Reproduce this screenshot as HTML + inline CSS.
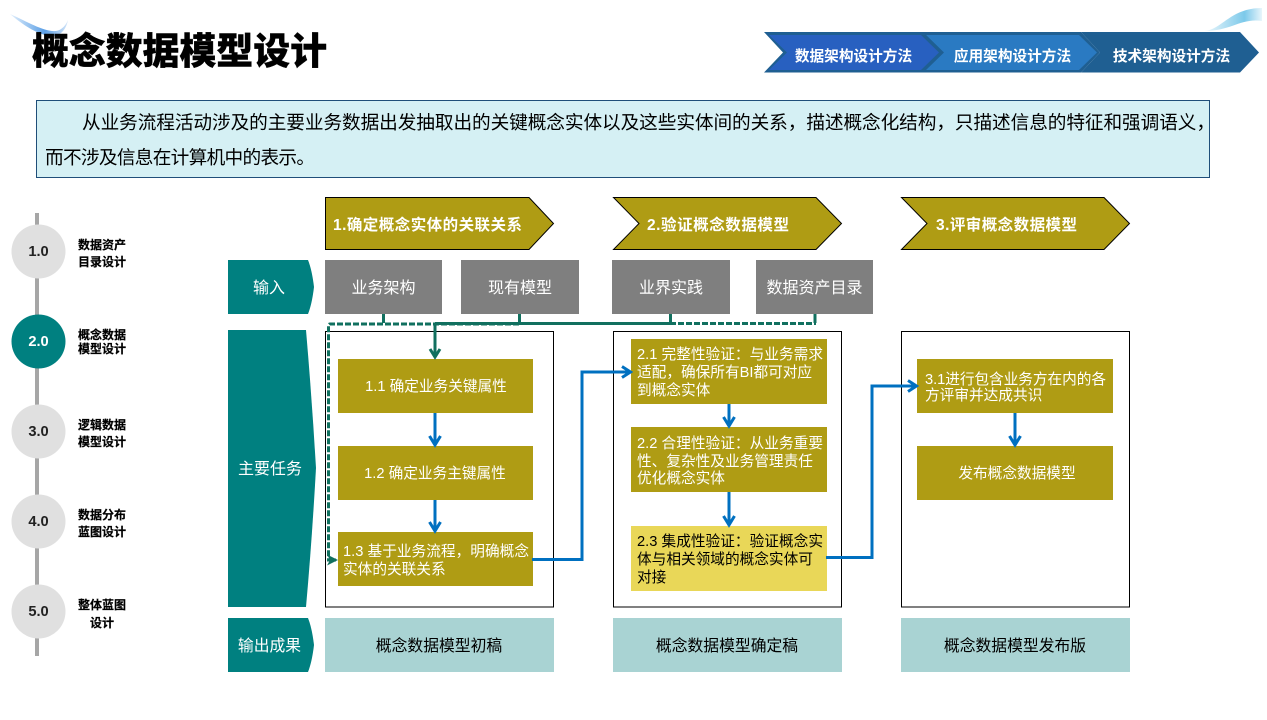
<!DOCTYPE html>
<html lang="zh"><head><meta charset="utf-8"><title>概念数据模型设计</title>
<style>
html,body{margin:0;padding:0;background:#fff;width:1267px;height:720px;overflow:hidden}
svg{display:block}
text{font-family:"Liberation Sans","Noto Sans CJK SC",sans-serif;font-size:14.67px;fill:#fff}
.k{fill:#000}
.b{font-weight:700}
.c{text-anchor:middle}
.n{font-size:12px;font-weight:700;fill:#000;stroke:#000;stroke-width:.2}
.box{fill:#fff;stroke:#000;stroke-width:1}
.go{fill:#af9c14}
.hd{fill:#af9c14;stroke:#000;stroke-width:1}
.te{fill:#008080}
.gr{fill:#7f7f7f}
.ou{fill:#a9d3d3}
.ci{fill:#e0e0e0}
.num{font-size:14.67px;font-weight:700;fill:#222;text-anchor:middle}
</style></head><body>
<svg width="1267" height="720" viewBox="0 0 1267 720" xmlns="http://www.w3.org/2000/svg">
<defs>
<linearGradient id="s1" x1="0" y1="0" x2="1" y2="0"><stop offset="0" stop-color="#e3f0fc"/><stop offset=".6" stop-color="#5b9fe6"/><stop offset="1" stop-color="#d3e5f8"/></linearGradient>
<linearGradient id="s2" x1="0" y1="0" x2="1" y2="0"><stop offset="0" stop-color="#eef8fc"/><stop offset=".7" stop-color="#7cc9ea"/><stop offset="1" stop-color="#e8f5fb"/></linearGradient>
</defs>

<!-- corner swooshes -->
<path d="M10 14 C28 22 44 32 56 31 C62 30 66 25 68 20 C66 30 60 37 50 36 C36 34 22 24 10 14Z" fill="url(#s1)"/>
<path d="M1204 31 C1222 30 1230 8 1262 8 L1262 21 C1240 18 1232 31 1204 31Z" fill="url(#s2)"/>

<!-- title -->
<text x="32" y="64" style="font-size:36.8px;font-weight:900;fill:#000;stroke:#000;stroke-width:.4" textLength="295">概念数据模型设计</text>

<!-- top nav chevrons -->
<polygon points="1081,32 1240,32 1259,52.500 1240,72.500 1081,72.500 1100,52.500" fill="#1f5f92"/>
<polygon points="922,32 1081,32 1100,52.500 1081,72.500 922,72.500 941,52.500" fill="#1f5f92"/>
<polygon points="926,35 1079,35 1097,52.500 1079,70 926,70 944,52.500" fill="#2a7ac2"/>
<polygon points="764,32 923,32 943,52.500 923,72.500 764,72.500 783,52.500" fill="#1f5f92"/>
<polygon points="769,35 921,35 939,52.500 921,70 769,70 787,52.500" fill="#2860c0"/>
<text class="b c" x="853.500" y="61" style="font-size:14.670px">数据架构设计方法</text>
<text class="b c" x="1012.500" y="61" style="font-size:14.670px">应用架构设计方法</text>
<text class="b c" x="1171.500" y="61" style="font-size:14.670px">技术架构设计方法</text>

<!-- description -->
<rect x="36.500" y="100.500" width="1173" height="77" fill="#d5f0f4" stroke="#1f4e79" stroke-width="1"/>
<text class="k" x="82" y="129" style="font-size:18.670px" textLength="1133">从业务流程活动涉及的主要业务数据出发抽取出的关键概念实体以及这些实体间的关系，描述概念化结构，只描述信息的特征和强调语义，</text>
<text class="k" x="45" y="164" style="font-size:18.670px" textLength="270">而不涉及信息在计算机中的表示。</text>

<!-- timeline -->
<rect x="35" y="213" width="4" height="443" fill="#a6a6a6"/>
<circle class="ci" cx="38.500" cy="251.500" r="27"/>
<circle class="te" cx="38.500" cy="341.500" r="27"/>
<circle class="ci" cx="38.500" cy="431.500" r="27"/>
<circle class="ci" cx="38.500" cy="521.500" r="27"/>
<circle class="ci" cx="38.500" cy="611.500" r="27"/>
<text class="num" x="38.500" y="256">1.0</text>
<text class="num" x="38.500" y="346" style="fill:#fff">2.0</text>
<text class="num" x="38.500" y="436">3.0</text>
<text class="num" x="38.500" y="526">4.0</text>
<text class="num" x="38.500" y="616">5.0</text>
<text class="n" x="78" y="249">数据资产</text><text class="n" x="78" y="266">目录设计</text>
<text class="n" x="78" y="339">概念数据</text><text class="n" x="78" y="353">模型设计</text>
<text class="n" x="78" y="429">逻辑数据</text><text class="n" x="78" y="446">模型设计</text>
<text class="n" x="78" y="519">数据分布</text><text class="n" x="78" y="536">蓝图设计</text>
<text class="n" x="78" y="609">整体蓝图</text><text class="n c" x="102" y="627">设计</text>

<!-- step headers -->
<polygon class="hd" points="325.500,197.500 529,197.500 553.500,223.500 529,249.500 325.500,249.500"/>
<polygon class="hd" points="613.500,197.500 816,197.500 841.500,223.500 816,249.500 613.500,249.500 639,223.500"/>
<polygon class="hd" points="901.500,197.500 1104,197.500 1129.500,223.500 1104,249.500 901.500,249.500 927,223.500"/>
<text class="b" x="333" y="230" style="font-size:15.500px" textLength="189">1.确定概念实体的关联关系</text>
<text class="b" x="647" y="230" style="font-size:15.500px" textLength="142">2.验证概念数据模型</text>
<text class="b" x="936" y="230" style="font-size:15.500px" textLength="141">3.评审概念数据模型</text>

<!-- row labels -->
<path class="te" d="M228 260 H308 Q312 270 314 287 Q312 304 308 314 H228Z"/>
<path class="te" d="M228 330 H306 Q312 400 316 468 Q312 540 306 607 H228Z"/>
<path class="te" d="M228 618 H308 Q312 628 314 645 Q312 662 308 672 H228Z"/>
<text class="c" x="269" y="293" style="font-size:16px">输入</text>
<text class="c" x="270" y="474" style="font-size:16px">主要任务</text>
<text class="c" x="269.500" y="651" style="font-size:15.800px">输出成果</text>

<!-- inputs -->
<rect class="gr" x="325" y="260" width="117" height="54"/>
<rect class="gr" x="461" y="260" width="118" height="54"/>
<rect class="gr" x="612" y="260" width="118" height="54"/>
<rect class="gr" x="756" y="260" width="117" height="54"/>
<text class="c" x="383.500" y="293" style="font-size:16px">业务架构</text>
<text class="c" x="520" y="293" style="font-size:16px">现有模型</text>
<text class="c" x="671" y="293" style="font-size:16px">业界实践</text>
<text class="c" x="814.500" y="293" style="font-size:16px">数据资产目录</text>

<!-- task frames -->
<rect class="box" x="325.500" y="331.500" width="228" height="275.500"/>
<rect class="box" x="613.500" y="331.500" width="228" height="275.500"/>
<rect class="box" x="901.500" y="331.500" width="228" height="275.500"/>

<!-- gold boxes -->
<rect class="go" x="338" y="359" width="195" height="54"/>
<rect class="go" x="338" y="446" width="195" height="54"/>
<rect class="go" x="338" y="532" width="195" height="54"/>
<rect class="go" x="631" y="339" width="196" height="65"/>
<rect class="go" x="631" y="427" width="196" height="65"/>
<rect x="631" y="526" width="196" height="65" fill="#e9d758"/>
<rect class="go" x="917" y="359" width="196" height="54"/>
<rect class="go" x="917" y="446" width="196" height="54"/>

<!-- green connectors -->
<g stroke="#11705f" stroke-width="3" fill="none">
<path d="M383.500 314 V323 M519.500 314 V323 M670.500 314 V323 M815 314 V323"/>
<path d="M435 323.500 H670"/>
<path d="M435 323.500 V356"/>
<path d="M430 349 L435 357 L440 349"/>
<path d="M519 324 H330 Q328.500 324 328.500 326 V560 H336" stroke-dasharray="6 2"/>
<path d="M670 323.500 H816" stroke-dasharray="6 2"/>
</g>
<polygon points="338,560 327,554.500 330,560 327,565.500" fill="#11705f"/>

<!-- blue connectors -->
<g stroke="#0070c0" stroke-width="3" fill="none">
<path d="M435 413 V444"/><path d="M429.500 436 L435 445 L440.500 436"/>
<path d="M435 500 V530"/><path d="M429.500 522 L435 531 L440.500 522"/>
<path d="M532 559.500 H582 V372 H629"/><path d="M622 366.500 L630.500 372 L622 377.500"/>
<path d="M729 404 V425"/><path d="M723.500 417 L729 426 L734.500 417"/>
<path d="M729 492 V524"/><path d="M723.500 516 L729 525 L734.500 516"/>
<path d="M826 557.500 H872 V386 H915"/><path d="M908 380.500 L916.500 386 L908 391.500"/>
<path d="M1015 413 V444"/><path d="M1009.500 436 L1015 445 L1020.500 436"/>
</g>

<!-- task text -->
<text class="c" x="436" y="391">1.1 确定业务关键属性</text>
<text class="c" x="435" y="478">1.2 确定业务主键属性</text>
<text x="343" y="556" textLength="186">1.3 基于业务流程，明确概念</text>
<text x="343" y="574">实体的关联关系</text>

<text x="637" y="359" textLength="186">2.1 完整性验证：与业务需求</text>
<text x="637" y="377">适配，确保所有BI都可对应</text>
<text x="637" y="395">到概念实体</text>
<text x="637" y="448" textLength="186">2.2 合理性验证：从业务重要</text>
<text x="637" y="466">性、复杂性及业务管理责任</text>
<text x="637" y="483">优化概念实体</text>
<text class="k" x="637" y="546" textLength="186">2.3 集成性验证：验证概念实</text>
<text class="k" x="637" y="564">体与相关领域的概念实体可</text>
<text class="k" x="637" y="582">对接</text>

<text x="925" y="384" textLength="181">3.1进行包含业务方在内的各</text>
<text x="925" y="400">方评审并达成共识</text>
<text class="c" x="1017" y="478">发布概念数据模型</text>

<!-- outputs -->
<rect class="ou" x="325" y="618" width="229" height="54"/>
<rect class="ou" x="613" y="618" width="229" height="54"/>
<rect class="ou" x="901" y="618" width="229" height="54"/>
<text class="k c" x="439" y="651" style="font-size:15.800px">概念数据模型初稿</text>
<text class="k c" x="727" y="651" style="font-size:15.800px">概念数据模型确定稿</text>
<text class="k c" x="1015" y="651" style="font-size:15.800px">概念数据模型发布版</text>
</svg>
</body></html>
